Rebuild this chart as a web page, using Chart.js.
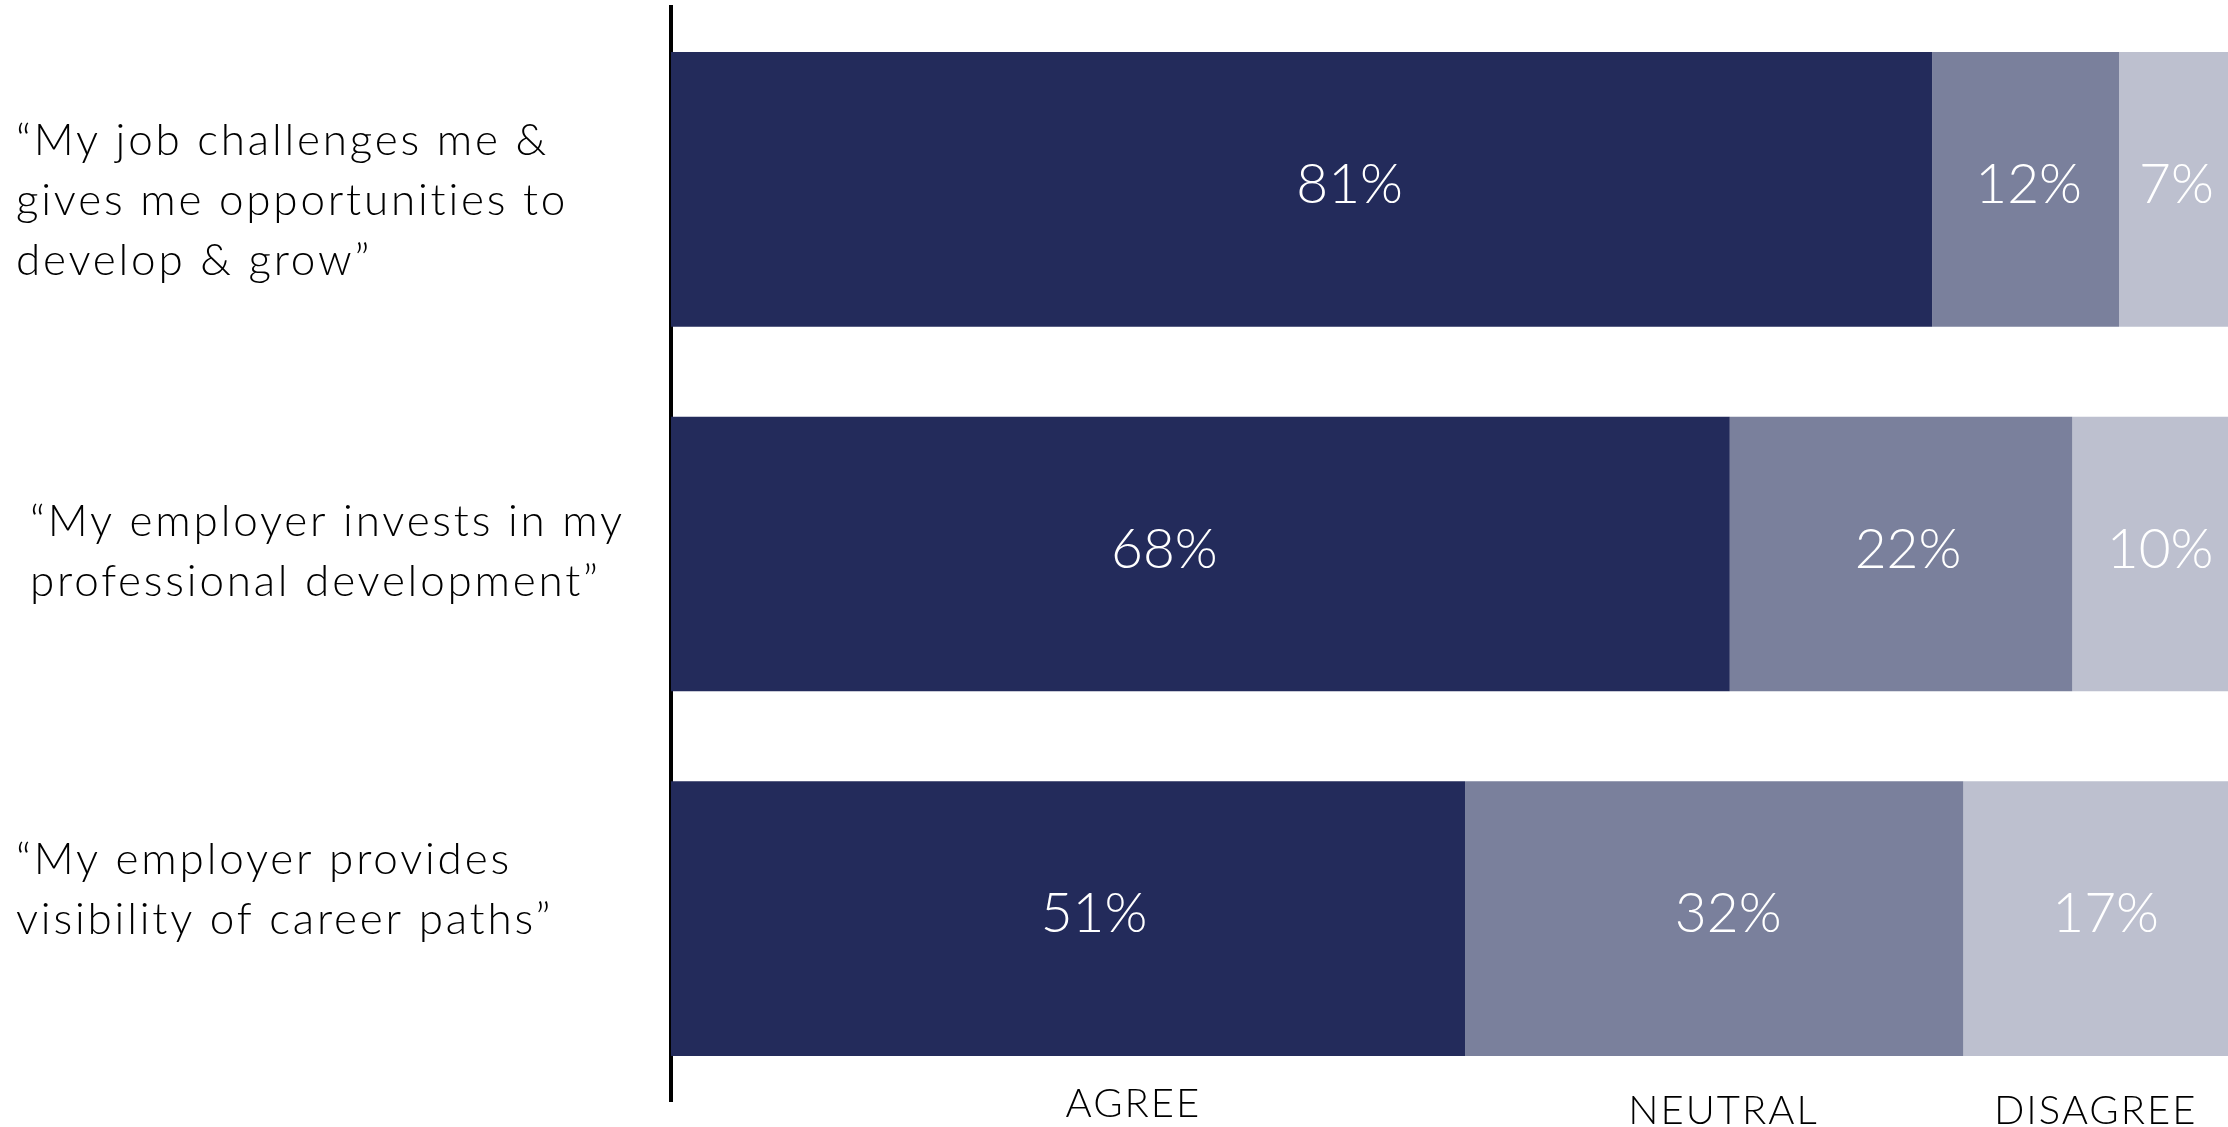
<!DOCTYPE html>
<html>
<head>
<meta charset="utf-8">
<script src="https://cdn.jsdelivr.net/npm/chart.js@4.4.0/dist/chart.umd.min.js"></script>
<style>
    html, body { margin: 0; padding: 0; background: #fff; }
    #wrap { width: 2228px; height: 1127px; }
</style>
</head>
<body>
<div id="wrap"><canvas id="myChart"></canvas></div>
<script>
// survey statements (one line per array entry)
const statements = [
    ['“My job challenges me &', 'gives me opportunities to', 'develop & grow”'],
    ['“My employer invests in my', 'professional development”'],
    ['“My employer provides', 'visibility of career paths”']
];
const agree = [81, 68, 51];
const neutral = [12, 22, 32];
const disagree = [7, 10, 17];
const seriesNames = ['AGREE', 'NEUTRAL', 'DISAGREE'];

const colors = ['#232B5B', '#7A809C', '#BDC0CF'];
const fontFamily = 'Lato, "Open Sans", sans-serif';

// where the statement text sits relative to its bar
const labelLeft = [16, 30, 16];
const labelShift = [11, -2, -29];
const labelLineHeight = 60;

// small horizontal nudges for the % labels (per series, per bar)
const valueNudge = [[48, -36, 26], [3, 7, 14], [3, 10, 10]];

// series names under the bars (x in axis units, y = text baseline)
const nameAt = [29.7, 67.6, 91.5];
const nameBaseline = [1117, 1124, 1124];

const statementLabels = {
    id: 'statementLabels',
    afterDraw(chart) {
        const ctx = chart.ctx;
        const yScale = chart.scales.y;
        ctx.save();
        ctx.fillStyle = '#000';
        ctx.font = '300 44px ' + fontFamily;
        ctx.letterSpacing = '2.8px';
        ctx.textAlign = 'left';
        ctx.textBaseline = 'middle';
        statements.forEach(function (lines, i) {
            const mid = yScale.getPixelForValue(i) + labelShift[i];
            const top = mid - (lines.length - 1) * labelLineHeight / 2;
            lines.forEach(function (line, j) {
                ctx.fillText(line, labelLeft[i], top + j * labelLineHeight);
            });
        });
        ctx.restore();
    }
};

const valueLabels = {
    id: 'valueLabels',
    afterDatasetsDraw(chart) {
        const ctx = chart.ctx;
        ctx.save();
        ctx.fillStyle = '#fff';
        ctx.font = '300 55px ' + fontFamily;
        ctx.textAlign = 'center';
        ctx.textBaseline = 'middle';
        chart.data.datasets.forEach(function (ds, d) {
            chart.getDatasetMeta(d).data.forEach(function (bar, i) {
                const cx = (bar.x + bar.base) / 2 + valueNudge[d][i];
                ctx.fillText(ds.data[i] + '%', cx, bar.y - 4);
            });
        });
        ctx.restore();
    }
};

const seriesTitles = {
    id: 'seriesTitles',
    afterDraw(chart) {
        const ctx = chart.ctx;
        const xScale = chart.scales.x;
        ctx.save();
        ctx.fillStyle = '#000';
        ctx.font = '300 40px ' + fontFamily;
        ctx.letterSpacing = '2px';
        ctx.textAlign = 'center';
        ctx.textBaseline = 'alphabetic';
        seriesNames.forEach(function (name, i) {
            ctx.fillText(name, xScale.getPixelForValue(nameAt[i]), nameBaseline[i]);
        });
        ctx.restore();
    }
};

const ctx = document.getElementById('myChart');
new Chart(ctx, {
    type: 'bar',
    data: {
        labels: statements.map(function (s) { return s.join(' '); }),
        datasets: [
            { label: seriesNames[0], data: agree, backgroundColor: colors[0] },
            { label: seriesNames[1], data: neutral, backgroundColor: colors[1] },
            { label: seriesNames[2], data: disagree, backgroundColor: colors[2] }
        ]
    },
    options: {
        indexAxis: 'y',
        responsive: true,
        maintainAspectRatio: false,
        animation: false,
        datasets: {
            bar: {
                categoryPercentage: 1,
                barPercentage: 0.753,
                borderWidth: 0
            }
        },
        layout: {
            padding: { left: 671, right: 0, top: 7, bottom: 26 }
        },
        plugins: {
            legend: { display: false },
            tooltip: { enabled: false }
        },
        scales: {
            x: {
                stacked: true,
                min: 0,
                max: 100,
                display: false
            },
            y: {
                stacked: true,
                ticks: { display: false },
                grid: { display: false, drawTicks: false },
                border: { display: true, color: '#000', width: 4 }
            }
        }
    },
    plugins: [statementLabels, valueLabels, seriesTitles]
});
</script>
</body>
</html>
